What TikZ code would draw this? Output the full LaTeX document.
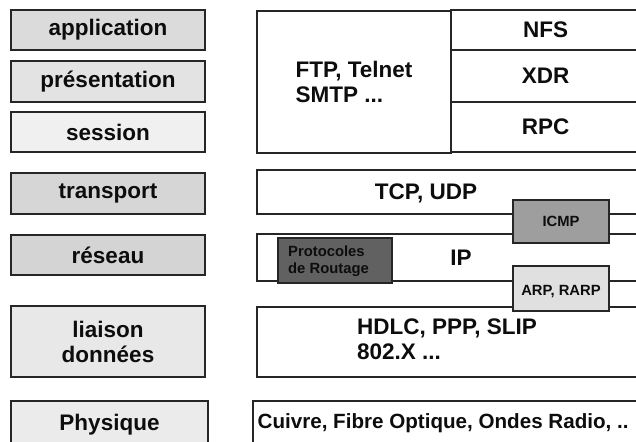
\documentclass[tikz,border=0pt]{standalone}
\usepackage{fontspec}
\setmainfont{Liberation Sans}
\begin{document}
\begin{tikzpicture}[x=1pt,y=-1pt,
  big/.style={font=\bfseries\fontsize{22.5}{25}\selectfont},
  small/.style={font=\bfseries\fontsize{14.8}{17}\selectfont},
  layer/.style={draw=black!85, line width=1.4pt, minimum width=194pt, inner sep=0pt, big, text=black!95},
  band/.style={draw=black!85, line width=1.2pt, inner sep=0pt, fill=white},
  proto/.style={big, text=black!95, inner sep=0pt},
  tag/.style={draw=black!85, line width=1.2pt, inner sep=0pt, small, text=black!95},
]
\clip (0,0) rectangle (636,441);
\fill[white] (0,0) rectangle (636,441);

% OSI layer names
\node[layer, fill=black!14, minimum height=40pt] (app)   at (108,30)    {application};
\node[layer, fill=black!11, minimum height=41pt] (pres)  at (108,81.5)  {présentation};
\node[layer, fill=black!6,  minimum height=40pt] (sess)  at (108,132)   {session};
\node[layer, fill=black!16, minimum height=41pt] (trans) at (108,193.5) {transport};
\node[layer, fill=black!17, minimum height=40pt] (res)   at (108,255)   {réseau};
\node[layer, fill=black!9,  minimum height=71pt, align=center] (liai) at (108,341.5) {liaison\\données};
\node[layer, fill=black!8,  minimum height=48pt, minimum width=197pt] (phys) at (109.5,425) {Physique};

% upper layers: applications
\node[band, minimum width=194pt, minimum height=142pt, proto, align=left] (ftp) at (354,82) {FTP, Telnet\\SMTP ...};
\node[band, proto, minimum width=189pt, minimum height=40pt] (nfs) at (545.5,30)  {NFS};
\node[band, proto, minimum width=189pt, minimum height=52pt] (xdr) at (545.5,76)  {XDR};
\node[band, proto, minimum width=189pt, minimum height=50pt] (rpc) at (545.5,127) {RPC};

% transport
\node[band, minimum width=383pt, minimum height=44pt] (tcp) at (448.5,192) {};
\node[proto] (tcptxt) at (426,193) {TCP, UDP};

% network
\node[band, minimum width=383pt, minimum height=47pt] (ip) at (448.5,257.5) {};
\node[proto] (iptxt) at (461,258) {IP};
\node[tag, fill=black!62, minimum width=114pt, minimum height=45pt] (rout) at (335,260.5) {};
\node[small, anchor=west, align=left, inner sep=0pt, text=black!95] (routtxt) at (288,261.5) {Protocoles\\de Routage};
\node[tag, fill=black!38, minimum width=96pt, minimum height=43pt] (icmp) at (561,221.5) {ICMP};

% data link
\node[band, minimum width=383pt, minimum height=70pt] (hdlc) at (448.5,342) {};
\node[proto, anchor=west, align=left] (hdlctxt) at (357,339) {HDLC, PPP, SLIP\\802.X ...};
\node[tag, fill=black!12, minimum width=96pt, minimum height=45pt] (arp) at (561,288.5) {};
\node[small, inner sep=0pt, text=black!95] (arptxt) at (561,292) {ARP, RARP};

% physical
\node[band, minimum width=387pt, minimum height=48pt] (phy) at (446.5,425) {};
\node[proto, anchor=west, font=\bfseries\fontsize{20.6}{24}\selectfont] (phytxt) at (257.5,423) {Cuivre, Fibre Optique, Ondes Radio, ..};
\end{tikzpicture}
\end{document}
